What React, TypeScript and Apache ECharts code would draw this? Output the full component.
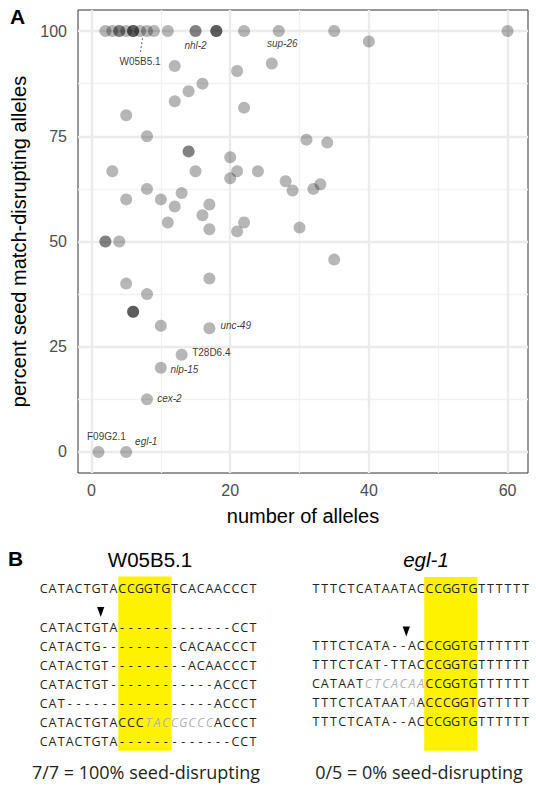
import React, { useEffect, useRef } from "react";
import * as echarts from "echarts";

// ---------- Panel A data ----------
const xTicks = [0, 20, 40, 60];
const yTicks = [0, 25, 50, 75, 100];
const xMinor = [10, 30, 50];
const yMinor = [12.5, 37.5, 62.5, 87.5];

const alleleCounts = [
  2, 3, 4, 4, 5, 6, 6, 6, 7, 8, 9, 11, 15, 15, 18, 18, 18, 22, 27, 35, 60,
  40, 26, 12, 21, 16, 14, 12, 22, 5, 8,
  31, 34, 14, 14, 20, 3, 15, 21, 24, 20,
  28, 33, 8, 32, 29, 13, 5, 10, 17, 12,
  16, 11, 22, 30, 17, 21, 2, 2, 4, 35,
  17, 5, 8, 6, 6, 6, 10, 17, 13, 10,
  8, 1, 5,
];
const percentDisrupting = [
  100, 100, 100, 100, 100, 100, 100, 100, 100, 100, 100, 100, 100, 100, 100, 100, 100, 100, 100, 100, 100,
  97.5, 92.3, 91.7, 90.5, 87.5, 85.7, 83.3, 81.8, 80, 75,
  74.2, 73.5, 71.4, 71.4, 70, 66.7, 66.7, 66.7, 66.7, 65,
  64.3, 63.6, 62.5, 62.5, 62.1, 61.5, 60, 60, 58.8, 58.3,
  56.25, 54.5, 54.5, 53.3, 52.9, 52.4, 50, 50, 50, 45.7,
  41.2, 40, 37.5, 33.3, 33.3, 33.3, 30, 29.4, 23.1, 20,
  12.5, 0, 0,
];

const geneNames = ["W05B5.1", "nhl-2", "sup-26", "unc-49", "T28D6.4", "nlp-15", "cex-2", "F09G2.1", "egl-1"];
const geneAlleles = [7, 15, 27, 17, 13, 10, 8, 1, 5];
const genePercent = [100, 100, 100, 29.4, 23.1, 20, 12.5, 0, 0];

// ---------- Panel B data ----------
const leftTitle = "W05B5.1";
const rightTitle = "egl-1";
const leftReference = "CATACTGTACCGGTGTCACAACCCT";
// lowercase = inserted bases (shown grey italic)
const leftAlleles = [
  "CATACTGTA-------------CCT",
  "CATACTG---------CACAACCCT",
  "CATACTGT---------ACAACCCT",
  "CATACTGT------------ACCCT",
  "CAT-----------------ACCCT",
  "CATACTGTACCCtaccgcccACCCT",
  "CATACTGTA-------------CCT",
];
const rightReference = "TTTCTCATAATACCCGGTGTTTTTT";
const rightAlleles = [
  "TTTCTCATA--ACCCGGTGTTTTTT",
  "TTTCTCAT-TTACCCGGTGTTTTTT",
  "CATAATctcacaaCCGGTGTTTTTT",
  "TTTCTCATAATaACCCGGTGTTTTT",
  "TTTCTCATA--ACCCGGTGTTTTTT",
];
const leftSummary = "7/7 = 100% seed-disrupting";
const rightSummary = "0/5 = 0% seed-disrupting";

// ---------- layout / style (not data) ----------
const SANS = '"Liberation Sans", Arial, sans-serif';
const SEQ = '"Open Sans", sans-serif';
const labelLayout: Record<string, { align: string; dx: number; dy: number; italic: boolean }> = {
  "W05B5.1": { align: "center", dx: 0, dy: 30, italic: false },
  "nhl-2": { align: "center", dx: 0, dy: 14.5, italic: true },
  "sup-26": { align: "center", dx: 3.5, dy: 12, italic: true },
  "unc-49": { align: "left", dx: 11, dy: -2.7, italic: true },
  "T28D6.4": { align: "left", dx: 10.5, dy: -2, italic: false },
  "nlp-15": { align: "left", dx: 9.6, dy: 1.7, italic: true },
  "cex-2": { align: "left", dx: 10.2, dy: -1, italic: true },
  "F09G2.1": { align: "center", dx: 8, dy: -15, italic: false },
  "egl-1": { align: "center", dx: 20, dy: -10.5, italic: true },
};

function buildPanelB() {
  const els: any[] = [];
  const pitch = 8.72;
  const rowY = (i: number) => 627 + 19.1 * i;
  const drawSeq = (seq: string, x0: number, y: number) => {
    for (let i = 0; i < seq.length; i++) {
      const ch = seq[i];
      const inserted = ch !== ch.toUpperCase() && ch !== "-";
      els.push({
        type: "text",
        x: x0 + (i + 0.5) * pitch,
        y,
        z: 10,
        style: {
          text: ch.toUpperCase(),
          fill: inserted ? "#b3b3b3" : "#231f20",
          font: (inserted ? "italic " : "") + "12.5px " + SEQ,
          textAlign: "center",
          textVerticalAlign: "middle",
        },
      });
    }
  };
  // yellow seed boxes
  els.push({ type: "rect", z: 1, shape: { x: 118.3, y: 576.5, width: 53.4, height: 174.2 }, style: { fill: "#fff200" } });
  els.push({ type: "rect", z: 1, shape: { x: 424.2, y: 577, width: 53.4, height: 173.7 }, style: { fill: "#fff200" } });

  els.push({ type: "text", x: 8, y: 558, z: 10, style: { text: "B", font: "bold 21px " + SANS, fill: "#000", textVerticalAlign: "middle" } });
  els.push({ type: "text", x: 150, y: 559, z: 10, style: { text: leftTitle, font: "20.5px " + SANS, fill: "#000", textAlign: "center", textVerticalAlign: "middle" } });
  els.push({ type: "text", x: 426, y: 559, z: 10, style: { text: rightTitle, font: "italic 20.5px " + SANS, fill: "#000", textAlign: "center", textVerticalAlign: "middle" } });

  const lx = 39.3;
  const rx = 311.7;
  drawSeq(leftReference, lx, 588.3);
  leftAlleles.forEach((s, i) => drawSeq(s, lx, rowY(i)));
  drawSeq(rightReference, rx, 588.3);
  rightAlleles.forEach((s, i) => drawSeq(s, rx, rowY(i + 1) - 1));

  // cut-site arrows
  const arrow = (cx: number, top: number) =>
    els.push({ type: "polygon", z: 10, shape: { points: [[cx - 3.6, top], [cx + 3.6, top], [cx, top + 10]] }, style: { fill: "#000" } });
  arrow(100.7, 607);
  arrow(406.3, 626.5);

  els.push({ type: "text", x: 146, y: 772, z: 10, style: { text: leftSummary, font: "18px " + SEQ, fill: "#231f20", textAlign: "center", textVerticalAlign: "middle" } });
  els.push({ type: "text", x: 419, y: 772, z: 10, style: { text: rightSummary, font: "18px " + SEQ, fill: "#231f20", textAlign: "center", textVerticalAlign: "middle" } });
  els.push({ type: "text", x: 10, y: 16, z: 10, style: { text: "A", font: "bold 21px " + SANS, fill: "#000", textVerticalAlign: "middle" } });
  return els;
}

export default function App() {
  const ref = useRef<HTMLDivElement>(null);
  useEffect(() => {
    if (!ref.current) return;
    const chart = echarts.init(ref.current, undefined, { renderer: "svg" });
    const gridMajor = { color: "#ebebeb", width: 2.4, type: "solid" };
    const gridMinor = { color: "#f2f2f2", width: 1.3, type: "solid" };
    const pts = alleleCounts.map((a, i) => [a, percentDisrupting[i]]);
    const labelData = geneNames.map((n, i) => {
      const L = labelLayout[n];
      return {
        name: n,
        value: [geneAlleles[i], genePercent[i]],
        label: {
          show: true,
          position: "inside",
          offset: [L.dx, L.dy],
          align: L.align,
          verticalAlign: "middle",
          formatter: n,
          fontStyle: L.italic ? "italic" : "normal",
          fontSize: 10,
          fontFamily: SANS,
          color: "#000",
        },
      };
    });
    chart.setOption({
      animation: false,
      grid: {
        left: 78,
        top: 10,
        width: 450,
        height: 463,
        show: true,
        borderColor: "#333333",
        borderWidth: 1,
        backgroundColor: "transparent",
        containLabel: false,
      },
      xAxis: {
        type: "value",
        min: -1.95,
        max: 62.95,
        name: "number of alleles",
        nameLocation: "middle",
        nameGap: 33,
        nameTextStyle: { fontSize: 20, fontFamily: SANS, color: "#000" },
        axisLine: { show: false },
        axisTick: { show: true, length: 5, customValues: xTicks, lineStyle: { color: "#333333", width: 1 } },
        axisLabel: { customValues: xTicks, fontSize: 16, fontFamily: SANS, color: "#4d4d4d", margin: 9 },
        splitLine: { show: false },
      },
      yAxis: {
        type: "value",
        min: -5,
        max: 105,
        name: "percent seed match-disrupting alleles",
        nameLocation: "middle",
        nameGap: 42,
        nameTextStyle: { fontSize: 20, fontFamily: SANS, color: "#000" },
        axisLine: { show: false },
        axisTick: { show: true, length: 5, customValues: yTicks, lineStyle: { color: "#333333", width: 1 } },
        axisLabel: { customValues: yTicks, fontSize: 16, fontFamily: SANS, color: "#4d4d4d", margin: 11 },
        splitLine: { show: false },
      },
      series: [
        {
          type: "line",
          data: [],
          z: 1,
          silent: true,
          markLine: {
            z: 1,
            silent: true,
            symbol: ["none", "none"],
            label: { show: false },
            animation: false,
            data: [
              ...xMinor.map((v) => ({ xAxis: v, lineStyle: gridMinor })),
              ...yMinor.map((v) => ({ yAxis: v, lineStyle: gridMinor })),
              ...xTicks.map((v) => ({ xAxis: v, lineStyle: gridMajor })),
              ...yTicks.map((v) => ({ yAxis: v, lineStyle: gridMajor })),
            ],
          },
        },
        {
          type: "scatter",
          z: 3,
          data: pts,
          symbolSize: 12,
          itemStyle: { color: "rgba(0,0,0,0.36)" },
          silent: true,
        },
        {
          type: "scatter",
          z: 10,
          data: labelData,
          symbolSize: 1,
          itemStyle: { color: "rgba(0,0,0,0)" },
          silent: true,
          markLine: {
            z: 10,
            silent: true,
            symbol: ["none", "none"],
            label: { show: false },
            lineStyle: { color: "#333", width: 0.8, type: [2, 2] },
            data: [[{ coord: [7.35, 98.3] }, { coord: [7.05, 94.9] }]],
          },
        },
      ],
      graphic: buildPanelB(),
    });
    return () => chart.dispose();
  }, []);
  return <div ref={ref} style={{ position: "fixed", left: 0, top: 0, width: 536, height: 786, background: "#fff" }} />;
}
